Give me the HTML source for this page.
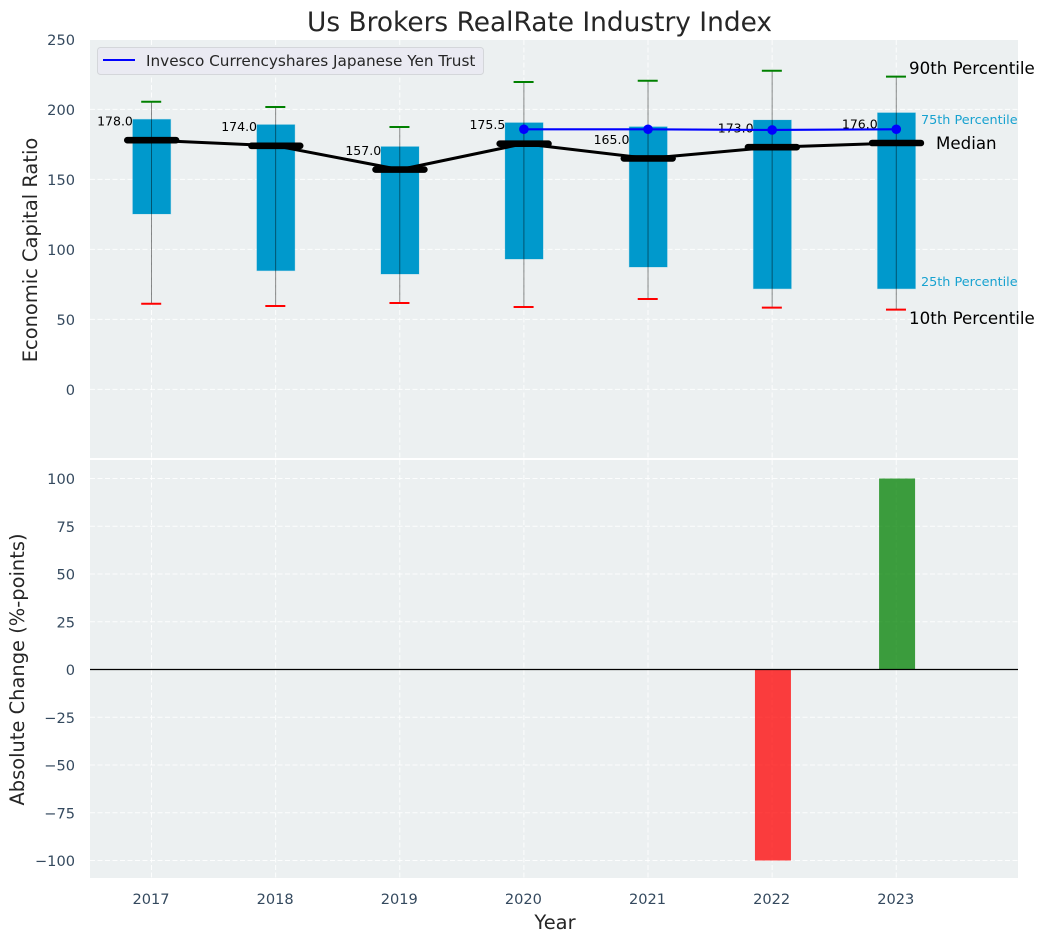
<!DOCTYPE html>
<html>
<head>
<meta charset="utf-8">
<title>Us Brokers RealRate Industry Index</title>
<style>
html,body{margin:0;padding:0;background:#fff;}
svg{display:block;font-family:"DejaVu Sans","Liberation Sans",sans-serif;}
</style>
</head>
<body>
<svg id="chart" width="1044" height="942" viewBox="0 0 1044 942" xmlns="http://www.w3.org/2000/svg"></svg>
<script>
const years = [2017, 2018, 2019, 2020, 2021, 2022, 2023];
const p90 = [205.5, 201.7, 187.4, 219.6, 220.5, 227.6, 223.4];
const p75 = [192.9, 189.1, 173.4, 190.5, 187.6, 192.4, 197.6];
const medians = [178, 174, 157, 175.5, 165, 173, 176];
const p25 = [125.3, 84.8, 82.4, 93.1, 87.4, 71.9, 71.9];
const p10 = [61.2, 59.6, 61.7, 58.9, 64.6, 58.4, 57];
const fundYears = [2020, 2021, 2022, 2023];
const fundValues = [185.8, 185.8, 185.3, 185.8];
const changes = [0, 0, 0, 0, 0, -100, 100];
const topTicks = [0, 50, 100, 150, 200, 250];
const bottomTicks = [-100, -75, -50, -25, 0, 25, 50, 75, 100];

const svg = document.getElementById('chart');
const NS = 'http://www.w3.org/2000/svg';
const L = 90, R = 1018;
const x = v => 151.5 + (v - 2017) * 124.13;
const yTop = v => 389.4 - 1.4 * v;
const yBot = v => 669.5 - 1.91 * v;

function mk(tag, attrs, text) {
  const el = document.createElementNS(NS, tag);
  for (const k in attrs) el.setAttribute(k, attrs[k]);
  if (text !== undefined) el.textContent = text;
  svg.appendChild(el);
  return el;
}
let el;

el = mk('rect', {x: L, y: 40, width: R - L, height: 418, fill: '#ecf0f1'});


el = mk('rect', {x: L, y: 460, width: R - L, height: 418, fill: '#ecf0f1'});



const gridStyle = {stroke: '#ffffff', 'stroke-width': 1, 'stroke-dasharray': '5 2.5', 'stroke-opacity': 0.85};
topTicks.forEach(t => {
  el = mk('line', Object.assign({x1: L, x2: R, y1: yTop(t), y2: yTop(t)}, gridStyle));
  
  
  el = mk('text', {x: 75, y: yTop(t) + 5.5, 'text-anchor': 'end', 'font-size': 14.58, fill: '#34495e'}, t);
  
  
});
bottomTicks.forEach(t => {
  el = mk('line', Object.assign({x1: L, x2: R, y1: yBot(t), y2: yBot(t)}, gridStyle));
  
  
  el = mk('text', {x: 75, y: yBot(t) + 5.5, 'text-anchor': 'end', 'font-size': 14.58, fill: '#34495e'}, t === 0 ? '0' : String(t).replace('-', '\u2212'));
  
  
});
years.forEach(yr => {
  el = mk('line', Object.assign({x1: x(yr), x2: x(yr), y1: 40, y2: 458}, gridStyle));
  
  
  el = mk('line', Object.assign({x1: x(yr), x2: x(yr), y1: 460, y2: 878}, gridStyle));
  
  
  el = mk('text', {x: x(yr) - 0.5, y: 904, 'text-anchor': 'middle', 'font-size': 14.58, fill: '#34495e'}, yr);
  
  
});

years.forEach((yr, i) => {
  el = mk('rect', {x: x(yr) - 18.8, y: yTop(p75[i]), width: 38, height: yTop(p25[i]) - yTop(p75[i]), fill: '#0099cc', stroke: '#0099cc', 'stroke-opacity': 0.2, 'stroke-width': 1});
  
  
  el = mk('line', {x1: x(yr), x2: x(yr), y1: yTop(p90[i]), y2: yTop(p10[i]), stroke: '#000', 'stroke-opacity': 0.45, 'stroke-width': 1});
  
  
  el = mk('line', {x1: x(yr) - 10.3, x2: x(yr) + 9.7, y1: yTop(p90[i]), y2: yTop(p90[i]), stroke: '#008000', 'stroke-width': 2});
  
  
  el = mk('line', {x1: x(yr) - 10.3, x2: x(yr) + 9.7, y1: yTop(p10[i]), y2: yTop(p10[i]), stroke: '#ff0000', 'stroke-width': 2});
  
  
});

el = mk('polyline', {points: years.map((yr, i) => x(yr) + ',' + yTop(medians[i])).join(' '), fill: 'none', stroke: '#000', 'stroke-width': 3, 'stroke-linejoin': 'round'});


years.forEach((yr, i) => {
  el = mk('line', {x1: x(yr) - 24.2, x2: x(yr) + 24.6, y1: yTop(medians[i]), y2: yTop(medians[i]), stroke: '#000', 'stroke-width': 6.6, 'stroke-linecap': 'round'});
  
  
  el = mk('text', {x: x(yr) - 18.6, y: yTop(medians[i]) - 14.6, 'text-anchor': 'end', 'font-size': 12.5, fill: '#000'}, medians[i].toFixed(1));
  
  
});

el = mk('polyline', {points: fundYears.map((yr, i) => x(yr) + ',' + yTop(fundValues[i])).join(' '), fill: 'none', stroke: '#0000ff', 'stroke-width': 2.1});


fundYears.forEach((yr, i) => {
  el = mk('circle', {cx: x(yr), cy: yTop(fundValues[i]), r: 4.8, fill: '#0000ff'});
  
  
});

years.forEach((yr, i) => {
  const v = changes[i];
  el = mk('rect', {x: x(yr) - 17.2, y: Math.min(yBot(0), yBot(v)), width: 36, height: Math.abs(yBot(v) - yBot(0)), fill: v < 0 ? '#ff0000' : '#008000', 'fill-opacity': 0.75});
  
  
});
el = mk('line', {x1: L, x2: R, y1: yBot(0), y2: yBot(0), stroke: '#000', 'stroke-width': 1.3});



el = mk('rect', {x: 97.5, y: 47.5, width: 386, height: 27, rx: 3, fill: '#eaeaf2', stroke: '#d4d6da', 'stroke-width': 1});


el = mk('line', {x1: 103, x2: 135, y1: 60, y2: 60, stroke: '#0000ff', 'stroke-width': 2});


el = mk('text', {x: 146, y: 66, 'font-size': 15.28, fill: '#262626'}, 'Invesco Currencyshares Japanese Yen Trust');



el = mk('text', {x: 909, y: 74, 'font-size': 16.67, fill: '#000'}, '90th Percentile');


el = mk('text', {x: 921, y: 124, 'font-size': 12.8, fill: '#0099cc', 'fill-opacity': 0.9}, '75th Percentile');


el = mk('text', {x: 936, y: 149, 'font-size': 16.67, fill: '#000'}, 'Median');


el = mk('text', {x: 921, y: 286, 'font-size': 12.8, fill: '#0099cc', 'fill-opacity': 0.9}, '25th Percentile');


el = mk('text', {x: 909, y: 324, 'font-size': 16.67, fill: '#000'}, '10th Percentile');



el = mk('text', {x: 539.5, y: 31, 'text-anchor': 'middle', 'font-size': 26.4, fill: '#262626'}, 'Us Brokers RealRate Industry Index');


el = mk('text', {x: 555, y: 929, 'text-anchor': 'middle', 'font-size': 19.44, fill: '#262626'}, 'Year');


el = mk('text', {transform: 'translate(37 250) rotate(-90)', 'text-anchor': 'middle', 'font-size': 19.44, fill: '#262626'}, 'Economic Capital Ratio');


el = mk('text', {transform: 'translate(24 669.5) rotate(-90)', 'text-anchor': 'middle', 'font-size': 19.44, fill: '#262626'}, 'Absolute Change (%-points)');


</script>
</body>
</html>
